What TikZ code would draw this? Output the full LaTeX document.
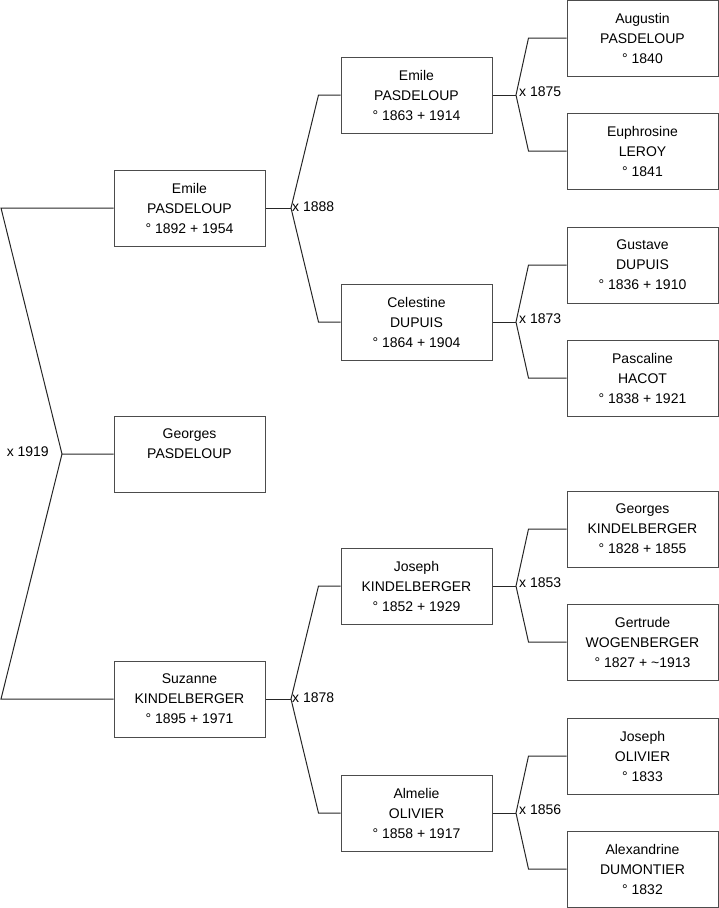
\documentclass[tikz,border=0pt]{standalone}
\usepackage{fontspec}
\setmainfont{Liberation Sans}
\usepackage{tikz}
\usetikzlibrary{positioning,calc}

\begin{document}
\begin{tikzpicture}[
          x=1pt, y=-1pt,
          person/.style={draw=black!70, line width=1pt, minimum width=151pt, minimum height=76pt, align=center, inner sep=0pt, font=\fontsize{14}{20}\selectfont},
          link/.style={line width=1pt, black!85},
          wed/.style={font=\fontsize{14}{20}\selectfont, inner sep=1pt}
      ]
        \useasboundingbox (0,0) rectangle (719,908);
        % generation 1
        \node[person] (emile1) at (189.5,208) {Emile\\PASDELOUP\\° 1892 + 1954};
        \node[person] (georges1) at (189.5,454) {Georges\\PASDELOUP\\\mbox{}};
        \node[person] (suzanne) at (189.5,699) {Suzanne\\KINDELBERGER\\° 1895 + 1971};
        % generation 2
        \node[person] (emile2) at (416.5,95) {Emile\\PASDELOUP\\° 1863 + 1914};
        \node[person] (celestine) at (416.5,322) {Celestine\\DUPUIS\\° 1864 + 1904};
        \node[person] (joseph2) at (416.5,586) {Joseph\\KINDELBERGER\\° 1852 + 1929};
        \node[person] (almelie) at (416.5,813) {Almelie\\OLIVIER\\° 1858 + 1917};
        % generation 3
        \node[person] (augustin) at (642.5,38) {Augustin\\PASDELOUP\\° 1840};
        \node[person] (euphrosine) at (642.5,151) {Euphrosine\\LEROY\\° 1841};
        \node[person] (gustave) at (642.5,265) {Gustave\\DUPUIS\\° 1836 + 1910};
        \node[person] (pascaline) at (642.5,378) {Pascaline\\HACOT\\° 1838 + 1921};
        \node[person] (georges3) at (642.5,529) {Georges\\KINDELBERGER\\° 1828 + 1855};
        \node[person] (gertrude) at (642.5,642) {Gertrude\\WOGENBERGER\\° 1827 + \textasciitilde1913};
        \node[person] (joseph3) at (642.5,756) {Joseph\\OLIVIER\\° 1833};
        \node[person] (alexandrine) at (642.5,869) {Alexandrine\\DUMONTIER\\° 1832};

        % marriages
        \coordinate (edge) at (1,0);
        \coordinate (m1919) at (62,454);
        \coordinate (m1888) at (291,208);
        \coordinate (m1878) at (291,699);
        \coordinate (m1875) at (516,95);
        \coordinate (m1873) at (516,322);
        \coordinate (m1853) at (516,586);
        \coordinate (m1856) at (516,813);

        \draw[link] (emile1.west) -- (emile1.west -| edge) -- (m1919) -- (georges1.west);
        \draw[link] (suzanne.west) -- (suzanne.west -| edge) -- (m1919);
        \node[wed, anchor=east] at ($(m1919)+(-12,-2)$) {x 1919};

        \draw[link] (emile2.west) -- ++(-22,0) -- (m1888) -- ($(celestine.west)+(-22,0)$) -- (celestine.west);
        \draw[link] (emile1.east) -- (m1888);
        \node[wed, anchor=west] at ($(m1888)+(0,-1)$) {x 1888};

        \draw[link] (joseph2.west) -- ++(-22,0) -- (m1878) -- ($(almelie.west)+(-22,0)$) -- (almelie.west);
        \draw[link] (suzanne.east) -- (m1878);
        \node[wed, anchor=west] at ($(m1878)+(0,-1)$) {x 1878};

        \draw[link] (augustin.west) -- ++(-38,0) -- (m1875) -- ($(euphrosine.west)+(-38,0)$) -- (euphrosine.west);
        \draw[link] (emile2.east) -- (m1875);
        \node[wed, anchor=west] at ($(m1875)+(2,-3)$) {x 1875};

        \draw[link] (gustave.west) -- ++(-38,0) -- (m1873) -- ($(pascaline.west)+(-38,0)$) -- (pascaline.west);
        \draw[link] (celestine.east) -- (m1873);
        \node[wed, anchor=west] at ($(m1873)+(2,-3)$) {x 1873};

        \draw[link] (georges3.west) -- ++(-38,0) -- (m1853) -- ($(gertrude.west)+(-38,0)$) -- (gertrude.west);
        \draw[link] (joseph2.east) -- (m1853);
        \node[wed, anchor=west] at ($(m1853)+(2,-3)$) {x 1853};

        \draw[link] (joseph3.west) -- ++(-38,0) -- (m1856) -- ($(alexandrine.west)+(-38,0)$) -- (alexandrine.west);
        \draw[link] (almelie.east) -- (m1856);
        \node[wed, anchor=west] at ($(m1856)+(2,-3)$) {x 1856};
      \end{tikzpicture}
\end{document}
